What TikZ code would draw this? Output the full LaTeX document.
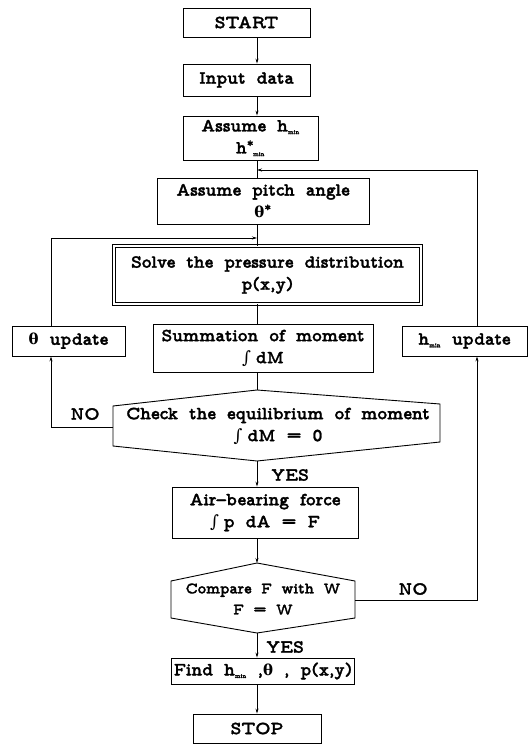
\documentclass[tikz,border=0pt]{standalone}
\usepackage{fontspec}
\usetikzlibrary{arrows.meta}

\newfontfamily\flowtt{lmmonoproplt10-bold.otf}[FakeBold=1.6, WordSpace=1.7]
\newfontfamily\symfont{DejaVu Serif}
\newcommand{\flowfont}{\flowtt\fontsize{18.5}{22}\selectfont}
\newcommand{\minsub}{\flowtt\fontsize{6.5}{6.5}\selectfont min}
\newcommand{\hmin}{h\textsubscript{\minsub}}
\newcommand{\thet}{{\symfont\bfseries\fontsize{15}{15}\selectfont θ}}
\newcommand{\integ}{{\symfont\fontsize{17}{17}\selectfont ∫}\kern5pt}

\begin{document}
\begin{tikzpicture}[x=1pt, y=-1pt,
    box/.style={draw, line width=0.9pt, align=center, inner sep=2pt, font=\flowfont},
    lbl/.style={font=\flowfont, inner sep=1pt},
    flow/.style={line width=0.7pt, -{Stealth[length=5pt, width=3pt]}},
    link/.style={line width=0.7pt}]
    \useasboundingbox (0,0) rectangle (532,744);

    % Axe principal
    \coordinate (ax) at (257,0);
    \coordinate (lx) at (51,0);
    \coordinate (rx) at (477,0);

    % Boîtes
    \node[box, minimum width=127, minimum height=29] (start) at (246.5,22.5) {START};
    \node[box, minimum width=127, minimum height=32] (input) at (246.5,80) {Input data};
    \node[box, minimum width=135, minimum height=44] (assumeh) at (250.5,138)
        {Assume \hmin\\ h\textsuperscript{*}\kern-1pt\textsubscript{\minsub}};
    \node[box, minimum width=212, minimum height=46] (pitch) at (263,201)
        {Assume pitch angle\\ \thet\textsuperscript{*}};
    \node[box, double, double distance=1.6pt, line width=0.9pt,
        minimum width=307, minimum height=58] (solve) at (267.5,275)
        {Solve the pressure distribution\\ p(x,y)};
    \node[box, minimum width=113, minimum height=30] (thupd) at (68.5,341) {\thet{} update};
    \node[box, minimum width=220, minimum height=48] (summ) at (263,348)
        {Summation of moment\\ \integ dM};
    \node[box, minimum width=125, minimum height=30] (hupd) at (464.5,341) {\hmin{} update};
    \node[box, minimum width=186, minimum height=51] (air) at (265,512.5)
        {Air\textendash bearing force\\ \integ p dA = F};
    \node[box, minimum width=166, minimum height=26] (find) at (263,671)
        {Find \hmin{} ,\thet{} , p(x,y)};
    \node[box, minimum width=128, minimum height=29] (stop) at (257,728.5) {STOP};

    % Losanges (hexagones)
    \coordinate (chkT) at (257,390);
    \coordinate (chkB) at (257,461);
    \coordinate (chkL) at (113,427);
    \coordinate (chkR) at (440,423);
    \draw[line width=0.9pt] (113,406) -- (chkT) -- (440,404) -- (440,442)
        -- (chkB) -- (113,446) -- cycle;
    \node[lbl, align=center] (check) at (278,426)
        {Check the equilibrium of moment\\ \integ dM = 0};

    \coordinate (cmpT) at (257,563);
    \coordinate (cmpB) at (257,633);
    \coordinate (cmpR) at (355,600);
    \draw[line width=0.9pt] (171,581) -- (cmpT) -- (355,581) -- (355,618)
        -- (cmpB) -- (171,618) -- cycle;
    \node[lbl, align=center, font=\flowtt\fontsize{16}{21}\selectfont] (compare) at (263,599)
        {Compare F with W\\ F = W};

    % Liaisons
    \draw[flow] (start.south -| ax) -- (input.north -| ax);
    \draw[flow] (input.south -| ax) -- (assumeh.north -| ax);
    \draw[link] (assumeh.south -| ax) -- (pitch.north -| ax);
    \draw[link] (pitch.south -| ax) -- (solve.north -| ax);
    \draw[link] (solve.south -| ax) -- (summ.north -| ax);
    \draw[link] (summ.south -| ax) -- (chkT);
    \draw[flow] (chkB) -- (air.north -| ax);
    \draw[flow] (air.south -| ax) -- (cmpT);
    \draw[flow] (cmpB) -- (find.north -| ax);
    \draw[flow] (find.south -| ax) -- (stop.north -| ax);

    % Boucles
    \coordinate (solvein) at (257,238);
    \coordinate (pitchin) at (257,170);
    \draw[flow] (chkL) -| (thupd.south -| lx);
    \draw[flow] (thupd.north -| lx) |- (solvein);
    \draw[flow] (cmpR) -| (hupd.south -| rx);
    \draw[flow] (hupd.north -| rx) |- (pitchin);

    % Étiquettes
    \node[lbl] (no1) at (85,414) {NO};
    \node[lbl] (yes1) at (290,475) {YES};
    \node[lbl] (yes2) at (285,647) {YES};
    \node[lbl] (no2) at (413,589) {NO};
\end{tikzpicture}
\end{document}
